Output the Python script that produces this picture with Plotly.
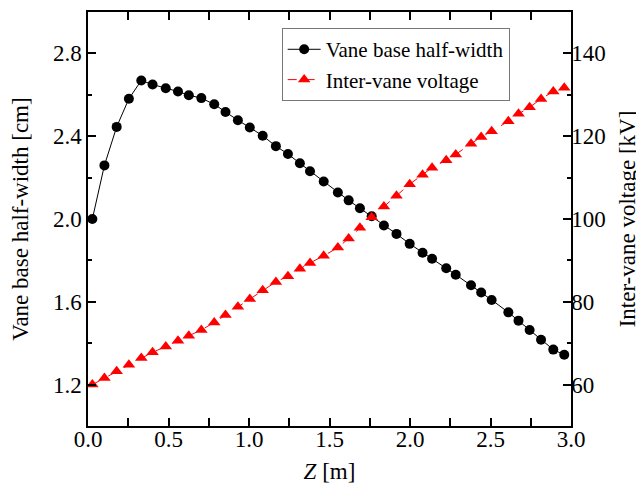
import plotly.graph_objects as go

# Data
z_width = [0.027, 0.102, 0.178, 0.254, 0.331, 0.401, 0.483, 0.559, 0.626, 0.704,
           0.784, 0.854, 0.931, 1.005, 1.085, 1.167, 1.242, 1.316, 1.379, 1.464,
           1.552, 1.619, 1.689, 1.762, 1.838, 1.916, 1.998, 2.078, 2.137, 2.225,
           2.284, 2.379, 2.442, 2.507, 2.611, 2.674, 2.743, 2.814, 2.890, 2.958]
half_width = [2.000, 2.259, 2.445, 2.581, 2.669, 2.650, 2.632, 2.616, 2.598, 2.584,
              2.554, 2.517, 2.477, 2.442, 2.402, 2.352, 2.314, 2.269, 2.231, 2.181,
              2.128, 2.090, 2.052, 2.013, 1.969, 1.928, 1.880, 1.837, 1.808, 1.762,
              1.731, 1.680, 1.645, 1.609, 1.549, 1.509, 1.464, 1.417, 1.369, 1.344]

z_volt = z_width
voltage = [60.0, 61.6, 63.2, 64.8, 66.4, 67.8, 69.2, 70.6, 71.8, 73.2,
           75.0, 76.8, 78.8, 80.7, 82.8, 84.8, 86.2, 88.0, 89.4, 91.1,
           93.1, 95.3, 97.9, 100.4, 103.0, 105.6, 108.4, 110.7, 112.4, 114.2,
           115.6, 118.2, 119.8, 121.2, 123.6, 125.4, 127.0, 129.0, 130.8, 131.7]

FONT = "Liberation Serif, Times New Roman, serif"
TICK_SIZE = 23
TITLE_SIZE = 23

fig = go.Figure()
fig.add_trace(go.Scatter(
    x=z_width, y=half_width, name="Vane base half-width",
    mode="lines+markers",
    line=dict(color="black", width=1),
    marker=dict(symbol="circle", size=10, color="black"),
    yaxis="y"))
fig.add_trace(go.Scatter(
    x=z_volt, y=voltage, name="Inter-vane voltage",
    mode="lines+markers",
    line=dict(color="red", width=1, dash="dash"),
    marker=dict(symbol="triangle-up", size=11, color="red"),
    yaxis="y2"))

axis_common = dict(
    showline=True, linecolor="black", linewidth=1.5,
    ticks="inside", ticklen=8, tickwidth=1.5, tickcolor="black",
    showgrid=False, zeroline=False, automargin=False,
    tickfont=dict(family=FONT, size=TICK_SIZE, color="black"),
)

fig.update_layout(
    width=636, height=481,
    margin=dict(l=79.5, r=73.3, t=4, b=62.5),
    paper_bgcolor="white", plot_bgcolor="white",
    font=dict(family=FONT, color="black"),
    showlegend=True,
    legend=dict(
        x=0.401, y=0.961, xanchor="left", yanchor="top",
        bordercolor="#777777", borderwidth=1, bgcolor="white",
        font=dict(family=FONT, size=21, color="black"),
        tracegroupgap=0, itemwidth=33,
    ),
    xaxis=dict(
        range=[0, 3.0], dtick=0.5, tickformat=".1f", mirror="allticks",
        ticklabelstandoff=-8,
        title=dict(text="<i>Z</i> [m]", font=dict(family=FONT, size=TITLE_SIZE), standoff=12),
        minor=dict(ticks="inside", ticklen=4, tickwidth=1.5, dtick=0.25, tickcolor="black"),
        **axis_common),
    yaxis=dict(
        range=[1.0, 3.0], dtick=0.4, tick0=1.2, tickformat=".1f",
        title=dict(text="Vane base half-width [cm]", font=dict(family=FONT, size=TITLE_SIZE), standoff=28),
        minor=dict(ticks="inside", ticklen=4, tickwidth=1.5, dtick=0.2, tickcolor="black"),
        **axis_common),
    yaxis2=dict(
        range=[50, 150], dtick=20, tick0=60, overlaying="y", side="right",
        ticklabelstandoff=-6,
        title=dict(text="Inter-vane voltage [kV]", font=dict(family=FONT, size=TITLE_SIZE), standoff=14),
        minor=dict(ticks="inside", ticklen=4, tickwidth=1.5, dtick=10, tickcolor="black"),
        **axis_common),
)

fig.write_html("out.html")
